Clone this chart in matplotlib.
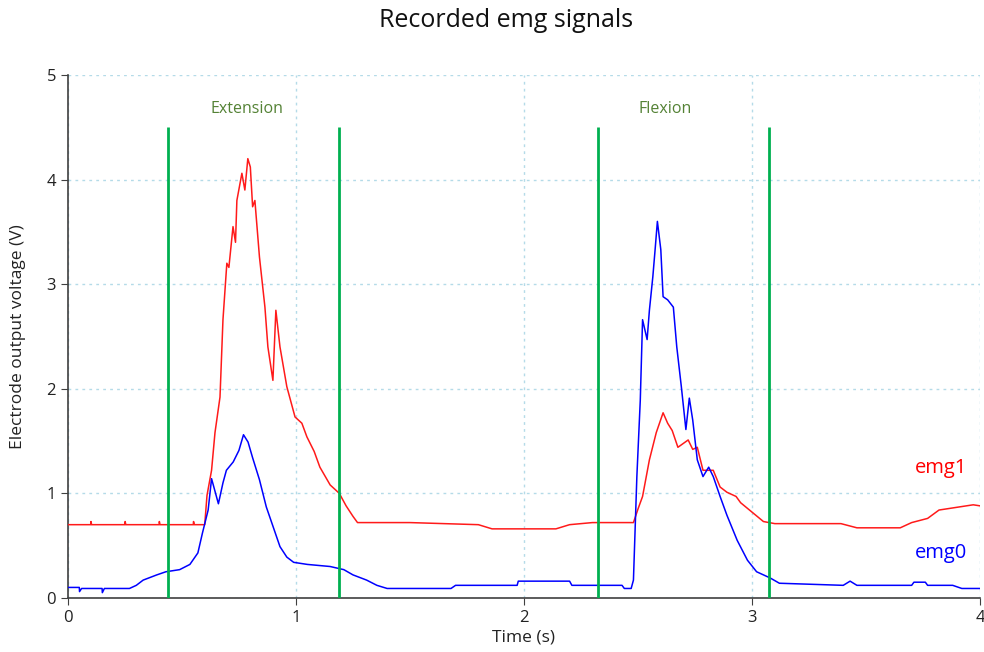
import numpy as np
import matplotlib.pyplot as plt

# Donnees ======================================================================
# emg1 (rouge)
t1 = [0.00, 0.10, 0.101, 0.104, 0.25, 0.251, 0.254, 0.40, 0.401, 0.404, 0.55, 0.551, 0.554,
      0.60, 0.61, 0.63, 0.645, 0.667, 0.68, 0.697, 0.706, 0.724, 0.735, 0.741, 0.763,
      0.776, 0.789, 0.80, 0.81, 0.82, 0.84, 0.864, 0.877, 0.899, 0.912, 0.93, 0.96,
      0.996, 1.026, 1.048, 1.08, 1.105, 1.15, 1.19, 1.22, 1.25, 1.27, 1.50, 1.80,
      1.86, 2.14, 2.20, 2.30, 2.48, 2.50, 2.52, 2.55, 2.58, 2.61, 2.63, 2.65, 2.675,
      2.72, 2.74, 2.76, 2.785, 2.83, 2.86, 2.89, 2.93, 2.95, 3.00, 3.05, 3.10, 3.39,
      3.46, 3.65, 3.70, 3.77, 3.82, 3.88, 3.97, 4.00]
v1 = [0.70, 0.70, 0.73, 0.70, 0.70, 0.73, 0.70, 0.70, 0.73, 0.70, 0.70, 0.73, 0.70,
      0.70, 0.98, 1.22, 1.58, 1.92, 2.66, 3.20, 3.16, 3.55, 3.40, 3.80, 4.06,
      3.90, 4.20, 4.12, 3.74, 3.80, 3.26, 2.78, 2.40, 2.08, 2.75, 2.40, 2.02,
      1.73, 1.67, 1.54, 1.40, 1.25, 1.08, 1.00, 0.88, 0.78, 0.72, 0.72, 0.70,
      0.66, 0.66, 0.70, 0.72, 0.72, 0.85, 0.97, 1.32, 1.58, 1.77, 1.67, 1.60, 1.44,
      1.51, 1.42, 1.44, 1.22, 1.22, 1.06, 1.01, 0.97, 0.91, 0.82, 0.73, 0.71, 0.71,
      0.67, 0.67, 0.72, 0.76, 0.84, 0.86, 0.89, 0.88]

# emg0 (bleu)
t0 = [0.00, 0.05, 0.051, 0.06, 0.15, 0.151, 0.16, 0.27, 0.30, 0.33, 0.39, 0.43, 0.49,
      0.535, 0.57, 0.59, 0.615, 0.63, 0.65, 0.66, 0.68, 0.695, 0.725, 0.75, 0.77,
      0.79, 0.81, 0.84, 0.87, 0.90, 0.93, 0.96, 0.99, 1.05, 1.15, 1.21, 1.25, 1.31,
      1.355, 1.40, 1.68, 1.70, 1.97, 1.975, 2.20, 2.21, 2.43, 2.44, 2.47, 2.48,
      2.495, 2.51, 2.52, 2.54, 2.55, 2.565, 2.575, 2.585, 2.60, 2.61, 2.63, 2.655,
      2.67, 2.69, 2.71, 2.725, 2.74, 2.76, 2.785, 2.81, 2.83, 2.86, 2.89, 2.935,
      2.98, 3.02, 3.08, 3.12, 3.40, 3.43, 3.46, 3.70, 3.71, 3.76, 3.77, 3.88, 3.92, 4.00]
v0 = [0.10, 0.10, 0.06, 0.09, 0.09, 0.05, 0.09, 0.09, 0.12, 0.17, 0.22, 0.25, 0.27,
      0.32, 0.43, 0.62, 0.84, 1.14, 0.98, 0.90, 1.10, 1.22, 1.30, 1.41, 1.56,
      1.49, 1.34, 1.13, 0.87, 0.68, 0.49, 0.39, 0.34, 0.32, 0.30, 0.27, 0.22, 0.17,
      0.12, 0.09, 0.09, 0.12, 0.12, 0.16, 0.16, 0.12, 0.12, 0.09, 0.09, 0.17,
      1.16, 1.89, 2.66, 2.47, 2.75, 3.07, 3.33, 3.60, 3.33, 2.88, 2.85, 2.78,
      2.40, 2.02, 1.61, 1.91, 1.70, 1.32, 1.16, 1.25, 1.16, 0.97, 0.79, 0.55,
      0.36, 0.25, 0.19, 0.14, 0.12, 0.16, 0.12, 0.12, 0.15, 0.15, 0.12, 0.12, 0.09, 0.09]

phases = ["Extension", "Flexion"]
phase_start = [0.44, 2.325]
phase_end = [1.19, 3.075]
phase_label_x = [0.785, 2.62]

# Figure ======================================================================
plt.rcParams['font.family'] = ['Open Sans', 'DejaVu Sans']
fig = plt.figure(figsize=(9.84, 6.52), dpi=100)
ax = fig.add_axes([0.069, 0.083, 0.927, 0.802])

ax.plot(t1, v1, color='#ff1a1a', lw=1.1, zorder=3)
ax.plot(t0, v0, color='#0000ff', lw=1.1, zorder=3)

for nom, a, b, xl in zip(phases, phase_start, phase_end, phase_label_x):
    ax.vlines([a, b], 0, 4.5, color='#00b050', lw=2, zorder=4)
    ax.text(xl, 4.67, nom, color='#548235', fontsize=11.5, ha='center', va='center')

ax.text(3.83, 1.24, "emg1", color='#ff0000', fontsize=14.5, ha='center', va='center')
ax.text(3.83, 0.43, "emg0", color='#0000ff', fontsize=14.5, ha='center', va='center')

ax.set_xlim(0, 4)
ax.set_ylim(0, 5)
ax.set_xticks([0, 1, 2, 3, 4])
ax.set_yticks([0, 1, 2, 3, 4, 5])
ax.grid(True, color='#b4dbe8', linestyle=(0, (2, 3)), lw=1)
for s in ['top', 'right']:
    ax.spines[s].set_visible(False)
for s in ['left', 'bottom']:
    ax.spines[s].set_color('#404040')
    ax.spines[s].set_linewidth(1.2)
ax.tick_params(colors='#404040', labelcolor='#222222', labelsize=12, length=5)
ax.set_xlabel('Time (s)', fontsize=12.5, color='#222222', labelpad=3)
ax.set_ylabel('Electrode output voltage (V)', fontsize=12.5, color='#222222')
ax.yaxis.set_label_coords(-0.046, 0.5)
fig.text(0.514, 0.969, 'Recorded emg signals', fontsize=18, ha='center', va='center', color='#111111')

plt.savefig('out.png', dpi=100)
